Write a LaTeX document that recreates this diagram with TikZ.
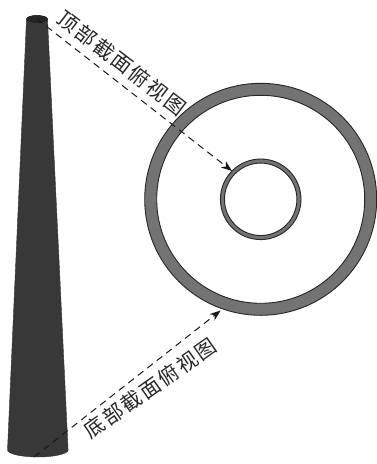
\documentclass[tikz,border=0pt]{standalone}
\usepackage{fontspec}
\newfontfamily\cjk[LetterSpace=10]{Noto Sans CJK SC}
\usetikzlibrary{arrows.meta}
\tikzset{
 ringline/.style={draw=black!85,line width=0.9pt,fill=black!55,even odd rule},
 tower/.style={draw=black!80,line width=0.4pt,fill=black!78},
 pointer/.style={draw=black!90,line width=1pt,dash pattern=on 7pt off 5pt,-{Stealth[length=11pt,width=8pt]}},
 caption/.style={font=\cjk\fontsize{20.5}{20.5}\selectfont,text=black!85,inner sep=0pt}
}
\begin{document}
\begin{tikzpicture}[x=1pt,y=-1pt]
\useasboundingbox (0,0) rectangle (376,464);
% tower
\draw[tower] (26.5,19) -- (7.5,450) arc[start angle=180,end angle=0,x radius=30.3,y radius=7] -- (47.5,19) arc[start angle=0,end angle=-180,x radius=10.5,y radius=3.5] -- cycle;
\draw[draw=black!90,line width=0.4pt,fill=black!85] (37,19) ellipse[x radius=10.5,y radius=3.5];
% sections
\path[ringline] (260.7,199.3) circle[radius=116] (260.7,199.3) circle[radius=104];
\path[ringline] (260.7,199.3) circle[radius=40.3] (260.7,199.3) circle[radius=36.2];
\coordinate (topstart) at (37,19);
\coordinate (toptip) at (232,171);
\coordinate (botstart) at (34,457);
\coordinate (bottip) at (220.7,310.5);
\draw[pointer] (topstart) -- (toptip);
\draw[pointer] (botstart) -- (bottip);
\node[caption,rotate=-37.5] (toplabel) at (122,63) {顶部截面俯视图};
\node[caption,rotate=35] (botlabel) at (150,388) {底部截面俯视图};
\end{tikzpicture}
\end{document}
